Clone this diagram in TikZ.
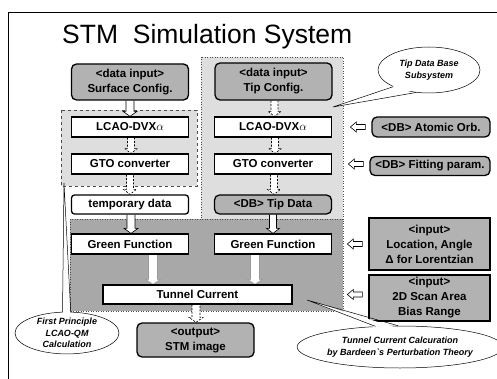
\documentclass[tikz,border=0pt]{standalone}
\usepackage{fontspec}
\setmainfont{Liberation Sans}
\usetikzlibrary{calc,shapes.geometric}
\definecolor{boxgray}{gray}{0.70}
\definecolor{reglight}{gray}{0.87}
\definecolor{regdark}{gray}{0.66}
\pgfdeclarelayer{bg}
\pgfdeclarelayer{mid}
\pgfsetlayers{bg,mid,main}
% down block arrow: [style]{from}{to}{xshift}{half width}
\newcommand\dnarr[5][]{\draw[varr,#1] let \p1=([xshift=#4]#2.south), \p2=(#3.north) in
  (\x1-#5,\y1) -- (\x1-#5,\y2+5pt) -- (\x1-#5-3pt,\y2+5pt) -- (\x1,\y2) --
  (\x1+#5+3pt,\y2+5pt) -- (\x1+#5,\y2+5pt) -- (\x1+#5,\y1);}
% left block arrow: {from (far right box)}{to}
\newcommand\lfarr[2]{\draw[varr] let \p1=(#1.west), \p2=(#2.east) in
  (\x1-6pt,\y2+2.5pt) -- (\x1-15pt,\y2+2.5pt) -- (\x1-15pt,\y2+5pt) -- (\x1-21pt,\y2) --
  (\x1-15pt,\y2-5pt) -- (\x1-15pt,\y2-2.5pt) -- (\x1-6pt,\y2-2.5pt) -- cycle;}
% callout: {ellipse node}{tip}{angle1}{angle2}
\newcommand\calltail[4]{%
  \fill[white] ($(#1.#3)!0.12!(#1.center)$) -- (#2) -- ($(#1.#4)!0.12!(#1.center)$) -- cycle;
  \draw[callline] (#1.#3) -- (#2) -- (#1.#4);}
\tikzset{
  wbox/.style={draw, line width=1.3pt, fill=white, minimum width=117pt, minimum height=20pt,
    inner sep=1pt, align=center, font=\bfseries\fontsize{11.5}{15}\selectfont},
  gbox/.style={wbox, fill=boxgray, rounded corners=5pt},
  sbox/.style={wbox, fill=boxgray},
  varr/.style={draw=black, fill=white, line width=0.6pt},
  darr/.style={dash pattern=on 2pt off 1.5pt},
  callline/.style={line width=0.5pt},
  callout/.style={ellipse, draw, callline, fill=white, inner sep=0pt, align=center,
    font=\bfseries\itshape\fontsize{9}{11.5}\selectfont}
}
\begin{document}
\begin{tikzpicture}[x=1pt,y=-1pt]
\useasboundingbox (0,0) rectangle (497,379);
% frame
\draw[line width=0.8pt] (8,379) -- (8,12) -- (497,12);
% title
\node[anchor=base west, inner sep=0pt, font=\fontsize{26.5}{30}\selectfont] (title) at (62,44) {STM\ \ Simulation System};
% regions
\begin{pgfonlayer}{bg}
\filldraw[fill=reglight, draw=black!70, line width=0.5pt, dotted] (201,57) rectangle (343,222);
\filldraw[fill=reglight, draw=black!70, line width=0.5pt, dashed] (61,110) rectangle (197,186);
\filldraw[fill=regdark, draw=black!70, line width=0.5pt, dotted] (70,219) rectangle (343,311);
\end{pgfonlayer}
% left column
\node[gbox, minimum height=36pt] (sc) at (130,82) {<data input>\\Surface Config.};
\node[wbox] (lcaoL) at (130,127) {LCAO-DVX$\alpha$};
\node[wbox] (gtoL) at (130,164) {GTO converter};
\node[wbox, rounded corners=3pt, minimum height=19pt] (tmp) at (130,204.5) {temporary data};
\node[wbox] (greenL) at (130,244) {Green Function};
\node[wbox, minimum width=189pt, minimum height=19pt] (tunnel) at (197.5,294.5) {Tunnel Current};
\node[gbox, minimum height=34pt] (stm) at (195.5,340) {<output>\\STM image};
% right column
\node[gbox, minimum height=37pt] (tc) at (273.5,81.5) {<data input>\\Tip Config.};
\node[wbox] (lcaoR) at (273,127) {LCAO-DVX$\alpha$};
\node[wbox] (gtoR) at (273,164) {GTO converter};
\node[gbox, minimum height=19pt] (tipdata) at (273,204.5) {<DB> Tip Data};
\node[wbox] (greenR) at (273,244) {Green Function};
% far right
\node[gbox, minimum width=118pt] (orb) at (431,127) {<DB> Atomic Orb.};
\node[gbox, minimum width=120pt, minimum height=19pt] (fit) at (430,166) {<DB> Fitting param.};
\node[sbox, minimum width=121pt, minimum height=52pt] (loc) at (429.5,244) {<input>\\Location, Angle\\Δ for Lorentzian};
\node[sbox, minimum width=121pt, minimum height=46pt] (scan) at (429.5,298) {<input>\\2D Scan Area\\Bias Range};
% arrows
\begin{pgfonlayer}{mid}
\dnarr{sc}{lcaoL}{0pt}{4pt}
\dnarr[darr]{lcaoL}{gtoL}{1pt}{3.5pt}
\dnarr[darr]{gtoL}{tmp}{0pt}{3.5pt}
\dnarr{tmp}{greenL}{1pt}{4pt}
\dnarr[draw=black!40]{greenL}{tunnel}{23pt}{4.5pt}
\dnarr[darr]{tc}{lcaoR}{1pt}{3.5pt}
\dnarr[darr]{lcaoR}{gtoR}{2pt}{3.5pt}
\dnarr[darr]{gtoR}{tipdata}{1pt}{3.5pt}
\dnarr{tipdata}{greenR}{0pt}{3.5pt}
\dnarr[draw=black!40]{greenR}{tunnel}{-18pt}{4.5pt}
\dnarr[darr]{tunnel}{stm}{-1.5pt}{4pt}
\lfarr{orb}{lcaoR}
\lfarr{fit}{gtoR}
\lfarr{loc}{greenR}
\lfarr{scan}{tunnel}
\end{pgfonlayer}
% callouts
\node[callout, minimum width=102pt, minimum height=46pt] (tipcall) at (429,70) {Tip Data Base\\Subsystem};
\coordinate (tiptip) at (333,107);
\calltail{tipcall}{tiptip}{205}{240}
\node[callout, minimum width=104pt, minimum height=40pt] (fpcall) at (67,333) {First Principle\\LCAO-QM\\Calculation};
\coordinate (fptip) at (64,183);
\calltail{fpcall}{fptip}{102}{80}
\node[callout, minimum width=194pt, minimum height=42pt] (tccall) at (400,347) {Tunnel Current Calcuration\\by Bardeen\textasciigrave s Perturbation Theory};
\coordinate (tctip) at (307,300);
\calltail{tccall}{tctip}{140}{95}
\end{tikzpicture}
\end{document}
